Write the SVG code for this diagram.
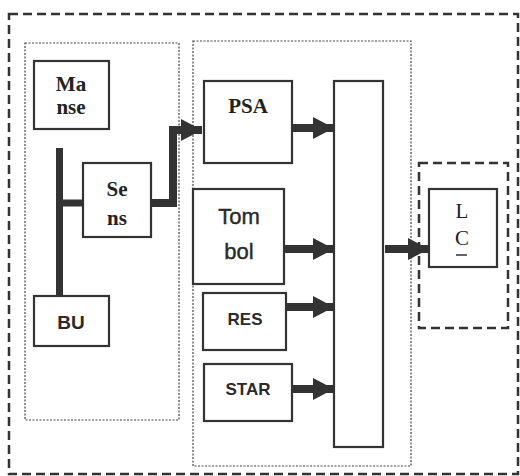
<svg xmlns="http://www.w3.org/2000/svg" width="520" height="476" viewBox="0 0 520 476">
<style>
.outer{fill:none;stroke:#333;stroke-width:2.5;stroke-dasharray:9 5}
.dot{fill:none;stroke:#444;stroke-width:1.2;stroke-dasharray:2 1.5}
.box{fill:#fff;stroke:#333;stroke-width:2.2}
.serif{font-family:"Liberation Serif","Times New Roman",serif;font-size:21px;fill:#222;text-anchor:middle}
.b{font-weight:bold}
.sans{font-family:"Liberation Sans",Arial,sans-serif;fill:#2a2a2a;text-anchor:middle}
.arr{fill:none;stroke:#333;stroke-width:8}
.bus{fill:none;stroke:#333;stroke-width:7}
</style>
<defs>
<marker id="ah" markerUnits="userSpaceOnUse" markerWidth="22" markerHeight="22" refX="21" refY="11" orient="auto">
<path d="M0,0 L21,11 L0,22 z" fill="#333"/>
</marker>
</defs>
<rect width="520" height="476" fill="#fff"/>
<rect class="outer" x="9" y="14" width="509" height="460"/>
<rect class="dot" x="25" y="43" width="154" height="377"/>
<rect class="dot" x="193" y="41" width="218" height="425"/>
<rect class="outer" x="419" y="163" width="89" height="165"/>
<g id="connectors">
<path class="bus" d="M59.5,148 V296"/>
<path class="bus" d="M63,203 H83" stroke-width="6"/>
<path class="arr" d="M151,203 H173 V130 H202" marker-end="url(#ah)"/>
<path class="arr" d="M292,128 H334" marker-end="url(#ah)"/>
<path class="arr" d="M284,249 H334" marker-end="url(#ah)"/>
<path class="arr" d="M286,307 H334" marker-end="url(#ah)"/>
<path class="arr" d="M292,389 H334" marker-end="url(#ah)"/>
<path class="arr" d="M385,249 H429" marker-end="url(#ah)"/>
</g>
<g id="manse">
<rect class="box" x="34" y="61" width="75" height="68"/>
<text class="serif b" x="71" y="91">Ma</text>
<text class="serif b" x="71" y="114">nse</text>
</g>
<g id="sens">
<rect class="box" x="83" y="163" width="68" height="74"/>
<text class="serif b" x="117" y="196">Se</text>
<text class="serif b" x="117" y="225">ns</text>
</g>
<g id="bu">
<rect class="box" x="34" y="296" width="75" height="50"/>
<text class="sans b" x="71" y="329" font-size="19">BU</text>
</g>
<g id="psa">
<rect class="box" x="204" y="81" width="88" height="82"/>
<text class="serif b" x="248" y="113">PSA</text>
</g>
<g id="tombol">
<rect class="box" x="193" y="189" width="91" height="95"/>
<text class="sans" x="239" y="224" font-size="22" stroke="#2a2a2a" stroke-width="0.4">Tom</text>
<text class="sans" x="239" y="259" font-size="22" stroke="#2a2a2a" stroke-width="0.4">bol</text>
</g>
<g id="res">
<rect class="box" x="203" y="293" width="83" height="57"/>
<text class="sans b" x="245" y="325" font-size="17">RES</text>
</g>
<g id="star">
<rect class="box" x="204" y="364" width="88" height="57"/>
<text class="sans b" x="248" y="395" font-size="17">STAR</text>
</g>
<g id="mux">
<rect class="box" x="334" y="81" width="49" height="366"/>
</g>
<g id="lc">
<rect class="box" x="429" y="189" width="68" height="78"/>
<text class="serif" x="462" y="218" font-size="20">L</text>
<text class="serif" x="462" y="245" font-size="20">C</text>
<path d="M456,255 H467" stroke="#333" stroke-width="1.5"/>
</g>
</svg>
